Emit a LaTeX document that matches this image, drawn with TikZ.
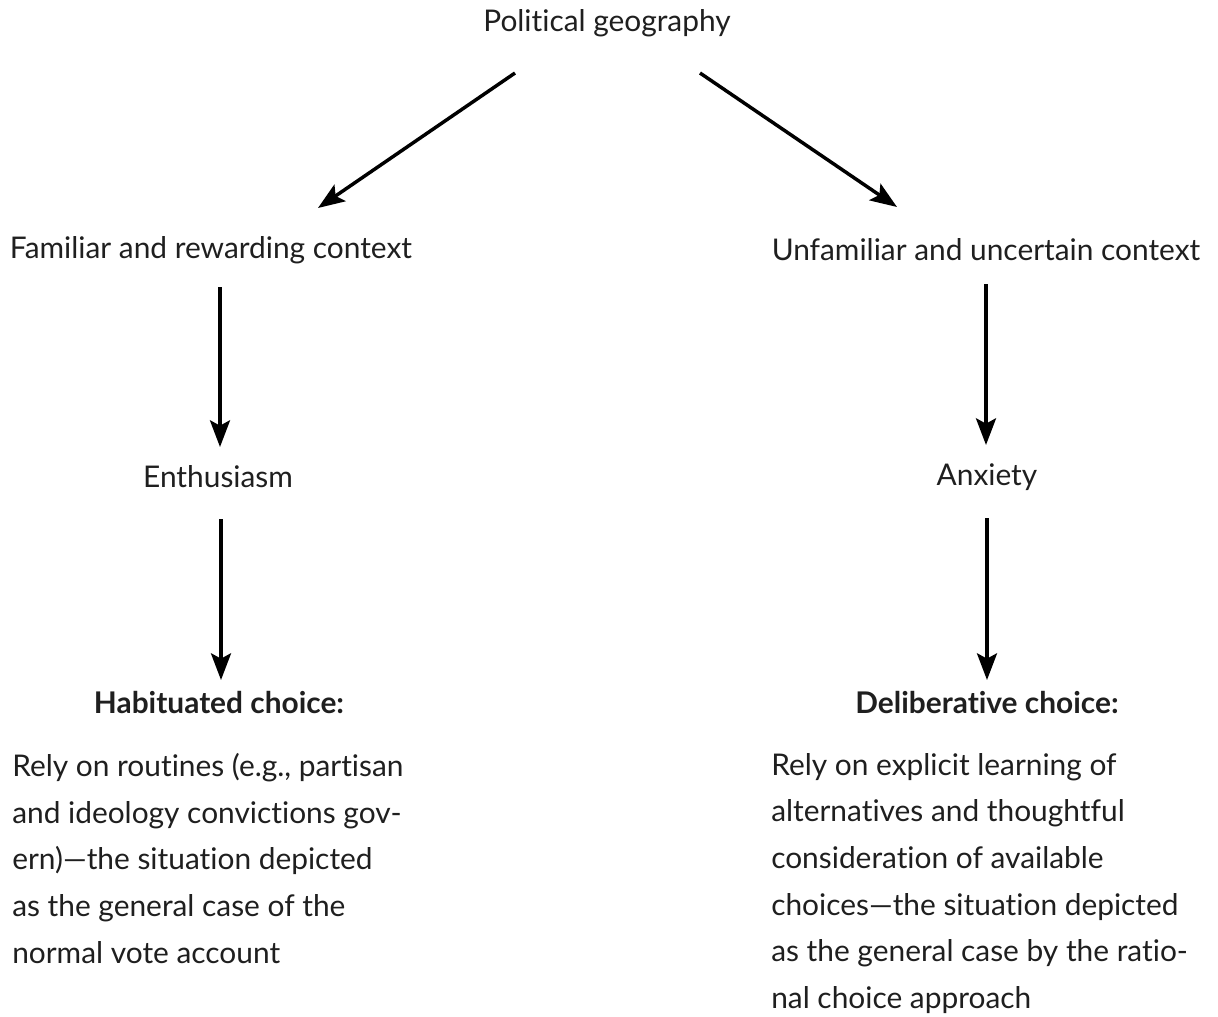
\documentclass[tikz,border=0pt]{standalone}
\usepackage{fontspec}
\setmainfont{Lato}[Ligatures={NoCommon}]
\usetikzlibrary{arrows.meta,calc}
\begin{document}
\begin{tikzpicture}[x=0.75pt,y=-0.75pt,
  lbl/.style={inner sep=0pt, font=\fontsize{22.4}{35}\selectfont, text=black!88},
  para/.style={lbl, align=left, anchor=north west},
  arr/.style={line width=2.6pt, -{Stealth[length=20pt,width=15pt,inset=4pt]}}]
\useasboundingbox (0,0) rectangle (1218,1017);
\node[lbl] (pg) at (607,23) {Political geography};
\node[lbl] (fam) at (211,250) {Familiar and rewarding context};
\node[lbl] (unf) at (986,250) {Unfamiliar and uncertain context};
\node[lbl] (ent) at (218,477) {Enthusiasm};
\node[lbl] (anx) at (987,477) {Anxiety};
\node[lbl, font=\fontsize{22.4}{35}\selectfont\bfseries] (hab) at (219,703) {Habituated choice:};
\node[lbl, font=\fontsize{22.4}{35}\selectfont\bfseries] (del) at (987,703) {Deliberative choice:};
\node[para] (habt) at (12,753) {Rely on routines (e.g., partisan\\and ideology convictions gov-\\ern)—the situation depicted\\as the general case of the\\normal vote account};
\node[para] (delt) at (771,753) {Rely on explicit learning of\\alternatives and thoughtful\\consideration of available\\choices—the situation depicted\\as the general case by the ratio-\\nal choice approach};
\draw[arr] ($(pg.center)+(-92,50)$) -- ($(fam.center)+(107,-42)$);
\draw[arr] ($(pg.center)+(93,50)$) -- ($(unf.center)+(-89,-43)$);
\draw[arr] ($(fam.center)+(9,37)$) -- ($(ent.center)+(2,-30)$);
\draw[arr] ($(ent.center)+(3,42)$) -- ($(hab.center)+(2,-23)$);
\draw[arr] ($(unf.center)+(0,34)$) -- ($(anx.center)+(-1,-32)$);
\draw[arr] ($(anx.center)+(0,41)$) -- ($(del.center)+(0,-23)$);
\end{tikzpicture}
\end{document}
